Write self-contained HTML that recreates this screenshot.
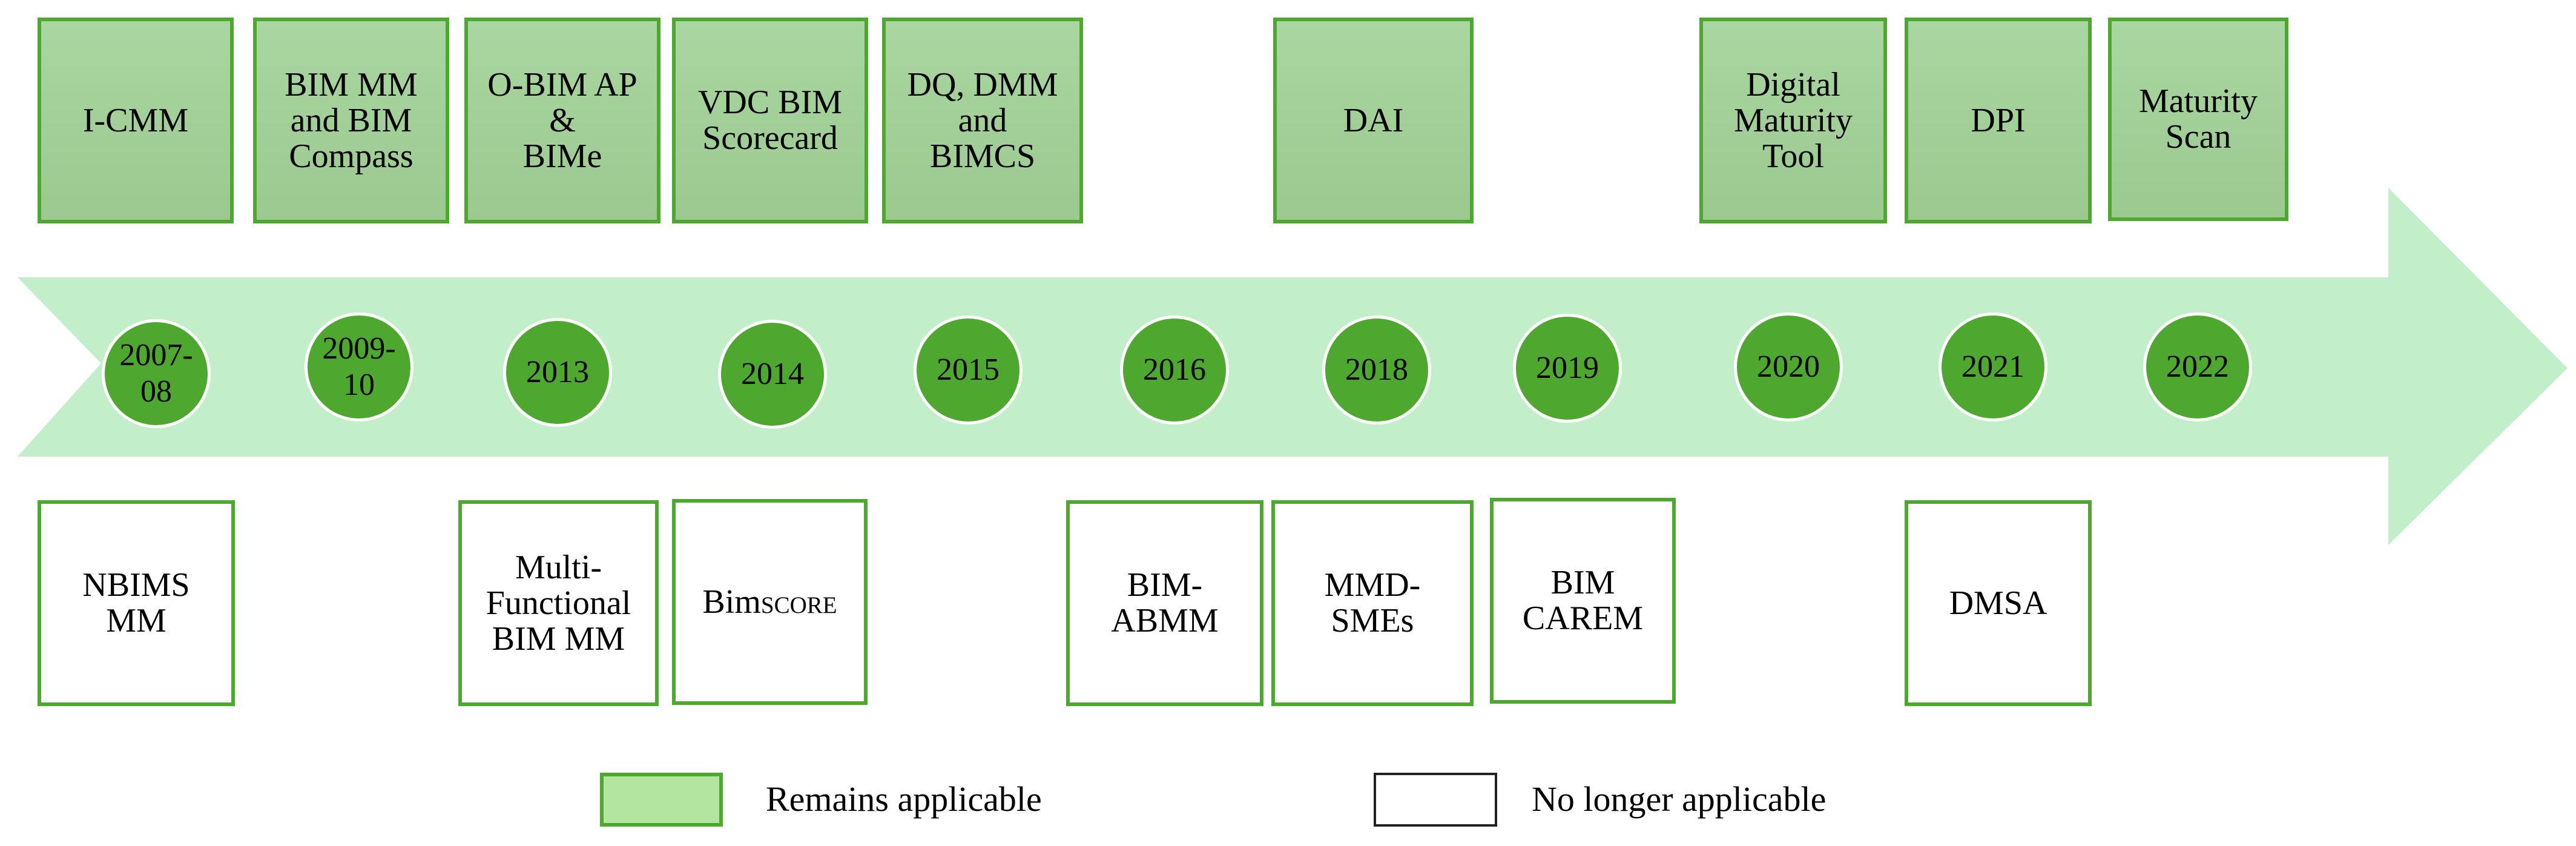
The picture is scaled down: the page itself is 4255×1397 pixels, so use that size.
<!DOCTYPE html>
<html><head><meta charset="utf-8"><style>
body{margin:0;width:4255px;height:1397px;background:#fff;position:relative;overflow:hidden;font-family:"Liberation Serif",serif;color:#000}
.b{position:absolute;box-sizing:border-box;border:6px solid #4ea72e;display:flex;align-items:center;justify-content:center;text-align:center;font-size:56px;line-height:59px}
.t{background:linear-gradient(#aad6a1,#9bc98f);top:29px;height:340px}
.w{background:#fff;top:826px;height:340px}
.c{position:absolute;width:180px;height:180px;margin:-90px 0 0 -90px;border-radius:50%;background:#4ea72e;border:5px solid #fff;box-sizing:border-box;display:flex;align-items:center;justify-content:center;text-align:center;font-size:52px;line-height:60px}
.l{position:absolute;font-size:58px;top:1286px}
</style></head><body>
<svg style="position:absolute;left:0;top:0" width="4255" height="1397"><polygon points="29,458 3945,458 3945,310 4241,608 3945,900 3945,754 29,754 167,600" fill="#c2efc9"/></svg>

<div class="b t" style="left:62px;width:324px">I-CMM</div>
<div class="b t" style="left:418px;width:324px">BIM MM<br>and BIM<br>Compass</div>
<div class="b t" style="left:767px;width:324px">O-BIM AP<br>&amp;<br>BIMe</div>
<div class="b t" style="left:1110px;width:324px">VDC BIM<br>Scorecard</div>
<div class="b t" style="left:1457px;width:332px">DQ, DMM<br>and<br>BIMCS</div>
<div class="b t" style="left:2103px;width:331px">DAI</div>
<div class="b t" style="left:2807px;width:310px">Digital<br>Maturity<br>Tool</div>
<div class="b t" style="left:3146px;width:309px">DPI</div>
<div class="b t" style="left:3482px;width:298px;height:336px">Maturity<br>Scan</div>

<div class="c" style="left:258px;top:617px">2007-<br>08</div>
<div class="c" style="left:593px;top:606px">2009-<br>10</div>
<div class="c" style="left:921px;top:615px">2013</div>
<div class="c" style="left:1276px;top:618px">2014</div>
<div class="c" style="left:1599px;top:611px">2015</div>
<div class="c" style="left:1940px;top:611px">2016</div>
<div class="c" style="left:2274px;top:611px">2018</div>
<div class="c" style="left:2589px;top:608px">2019</div>
<div class="c" style="left:2954px;top:606px">2020</div>
<div class="c" style="left:3292px;top:606px">2021</div>
<div class="c" style="left:3630px;top:606px">2022</div>

<div class="b w" style="left:62px;width:326px">NBIMS<br>MM</div>
<div class="b w" style="left:757px;width:331px">Multi-<br>Functional<br>BIM MM</div>
<div class="b w" style="left:1110px;width:323px;top:824px">Bim<span style="font-variant:small-caps">score</span></div>
<div class="b w" style="left:1761px;width:326px">BIM-<br>ABMM</div>
<div class="b w" style="left:2100px;width:334px">MMD-<br>SMEs</div>
<div class="b w" style="left:2461px;width:307px;top:822px">BIM<br>CAREM</div>
<div class="b w" style="left:3146px;width:309px">DMSA</div>

<div class="b" style="left:991px;top:1276px;width:203px;height:89px;background:#b3e4a0"></div>
<div class="l" style="left:1265px">Remains applicable</div>
<div class="b" style="left:2269px;top:1276px;width:204px;height:89px;border-color:#222;border-width:4px;background:#fff"></div>
<div class="l" style="left:2530px">No longer applicable</div>
</body></html>
